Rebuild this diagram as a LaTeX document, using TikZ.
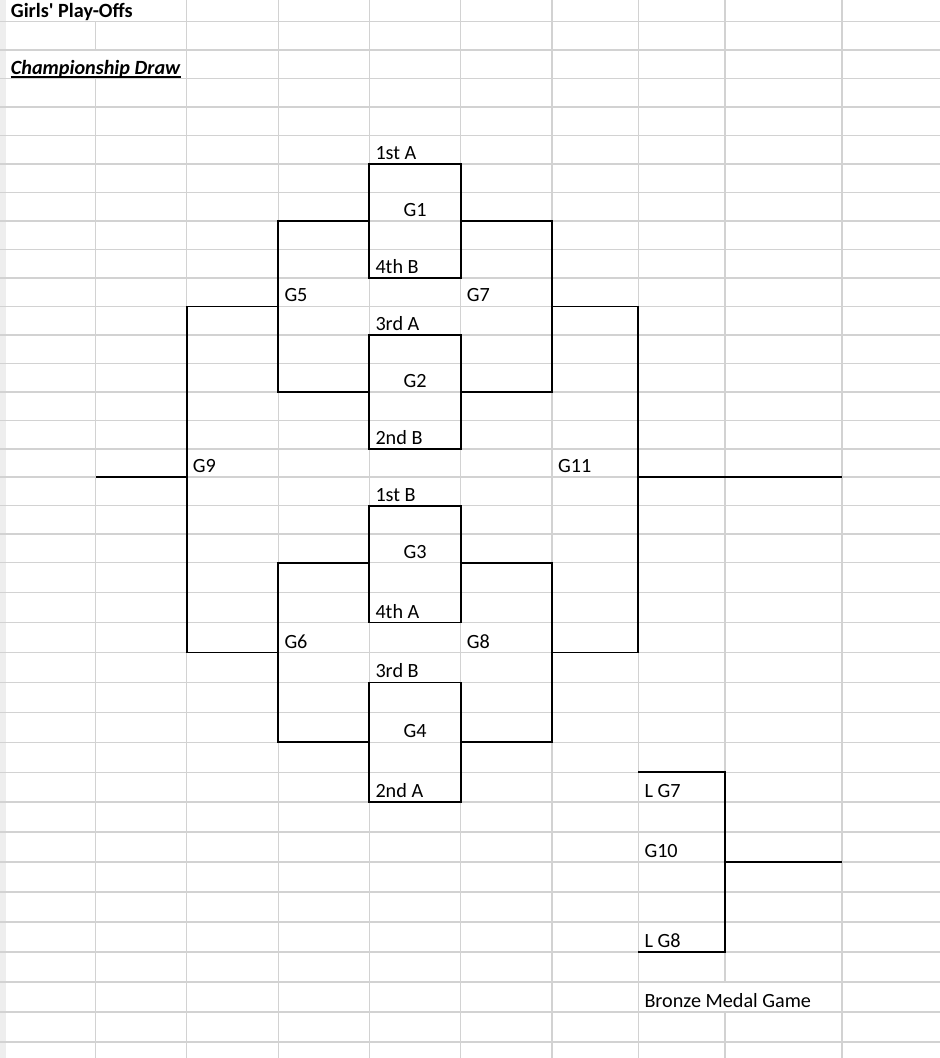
\documentclass[tikz,border=0pt]{standalone}
\usepackage{fontspec}
\setmainfont{Carlito}
\usetikzlibrary{positioning}
\definecolor{gridgray}{RGB}{210,210,210}
\definecolor{edgegray}{RGB}{238,238,238}
\tikzstyle{gridline} = [line width=1.5pt, gridgray]
\tikzstyle{bracket} = [line width=1.8pt, black]
\tikzstyle{cell} = [inner sep=0pt, anchor=base west]
\tikzstyle{game} = [inner sep=0pt, anchor=base]
% row lines of the sheet (rows get a bit taller from row 19 on)
\pgfmathdeclarefunction{ry}{1}{\pgfmathparse{(#1<19.5) ? (21.7+28.47*#1) : (562.7+29.94*(#1-19))}}
% column lines
\def\xA{4.7}
\def\xB{95.7}
\def\xC{186.7}
\def\xD{278.3}
\def\xE{369.3}
\def\xF{460.7}
\def\xG{552}
\def\xH{638.3}
\def\xI{725.2}
\def\xJ{842}

\begin{document}
\begin{tikzpicture}[x=1pt, y=-1pt, font=\fontsize{20.2}{24}\selectfont]
    \useasboundingbox (0,0) rectangle (940,1058);

    % sheet grid
    \fill[edgegray] (0,0) rectangle (6,1058);
    \foreach \k in {0,...,35}
        \draw[gridline] (0,{ry(\k)}) -- (940,{ry(\k)});
    \foreach \x in {\xC,\xD,\xE,\xF,\xG,\xH,\xJ}
        \draw[gridline] (\x,0) -- (\x,1058);
    \draw[gridline] (\xB,{ry(0)}) -- (\xB,{ry(1)});
    \draw[gridline] (\xB,{ry(2)}) -- (\xB,1058);
    \draw[gridline] (\xI,0) -- (\xI,{ry(33)});
    \draw[gridline] (\xI,{ry(34)}) -- (\xI,1058);

    % headings
    \node[cell] (title) at ({\xA+6},{ry(0)-4.5}) {\textbf{Girls\textquotesingle\ Play-Offs}};
    \node[cell] (champ) at ({\xA+6},{ry(2)-4.5}) {\textbf{\textit{Championship Draw}}};
    \draw[line width=1.4pt] ([yshift=-3pt]champ.base west) -- ([yshift=-3pt]champ.base east);

    % first round
    \draw[bracket] (\xE,{ry(5)}) rectangle (\xF,{ry(9)});
    \draw[bracket] (\xE,{ry(11)}) rectangle (\xF,{ry(15)});
    \draw[bracket] (\xE,{ry(17)}) rectangle (\xF,{ry(21)});
    \draw[bracket] (\xE,{ry(23)}) rectangle (\xF,{ry(27)});

    \node[cell] (t1A) at ({\xE+6},{ry(5)-4.5}) {1st A};
    \node[game] (g1) at ({(\xE+\xF)/2},{ry(7)-4.5}) {G1};
    \node[cell] (t4B) at ({\xE+6},{ry(9)-4.5}) {4th B};
    \node[cell] (t3A) at ({\xE+6},{ry(11)-4.5}) {3rd A};
    \node[game] (g2) at ({(\xE+\xF)/2},{ry(13)-4.5}) {G2};
    \node[cell] (t2B) at ({\xE+6},{ry(15)-4.5}) {2nd B};
    \node[cell] (t1B) at ({\xE+6},{ry(17)-4.5}) {1st B};
    \node[game] (g3) at ({(\xE+\xF)/2},{ry(19)-4.5}) {G3};
    \node[cell] (t4A) at ({\xE+6},{ry(21)-4.5}) {4th A};
    \node[cell] (t3B) at ({\xE+6},{ry(23)-4.5}) {3rd B};
    \node[game] (g4) at ({(\xE+\xF)/2},{ry(25)-4.5}) {G4};
    \node[cell] (t2A) at ({\xE+6},{ry(27)-4.5}) {2nd A};

    % second round
    \draw[bracket] (\xE,{ry(7)}) -| (\xD,{ry(13)}) -- (\xE,{ry(13)});
    \draw[bracket] (\xF,{ry(7)}) -| (\xG,{ry(13)}) -- (\xF,{ry(13)});
    \draw[bracket] (\xE,{ry(19)}) -| (\xD,{ry(25)}) -- (\xE,{ry(25)});
    \draw[bracket] (\xF,{ry(19)}) -| (\xG,{ry(25)}) -- (\xF,{ry(25)});

    \node[cell] (g5) at ({\xD+6},{ry(10)-4.5}) {G5};
    \node[cell] (g7) at ({\xF+6},{ry(10)-4.5}) {G7};
    \node[cell] (g6) at ({\xD+6},{ry(22)-4.5}) {G6};
    \node[cell] (g8) at ({\xF+6},{ry(22)-4.5}) {G8};

    % G9 and G11
    \draw[bracket] (\xD,{ry(10)}) -| (\xC,{ry(22)}) -- (\xD,{ry(22)});
    \draw[bracket] (\xC,{ry(16)}) -- (\xB,{ry(16)});
    \draw[bracket] (\xG,{ry(10)}) -| (\xH,{ry(22)}) -- (\xG,{ry(22)});
    \draw[bracket] (\xH,{ry(16)}) -- (\xJ,{ry(16)});

    \node[cell] (g9) at ({\xC+6},{ry(16)-4.5}) {G9};
    \node[cell] (g11) at ({\xG+6},{ry(16)-4.5}) {G11};

    % bronze medal game
    \draw[bracket] (\xH,{ry(26)}) -| (\xI,{ry(32)}) -- (\xH,{ry(32)});
    \draw[bracket] (\xI,{ry(29)}) -- (\xJ,{ry(29)});

    \node[cell] (lg7) at ({\xH+6},{ry(27)-4.5}) {L G7};
    \node[cell] (g10) at ({\xH+6},{ry(29)-4.5}) {G10};
    \node[cell] (lg8) at ({\xH+6},{ry(32)-4.5}) {L G8};
    \node[cell] (bronze) at ({\xH+6},{ry(34)-4.5}) {Bronze Medal Game};
\end{tikzpicture}
\end{document}
